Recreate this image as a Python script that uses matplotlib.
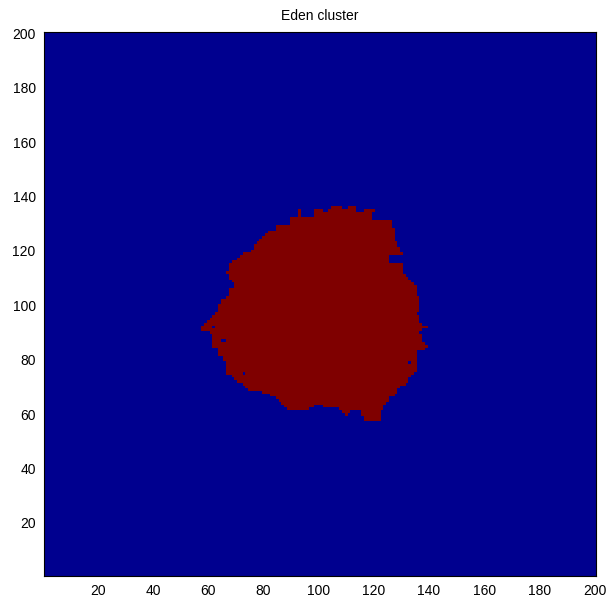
import numpy as np
import matplotlib
matplotlib.use("Agg")
import matplotlib.pyplot as plt
from matplotlib.path import Path
from matplotlib.colors import ListedColormap

n = 200  # lattice size

# outline of the Eden cluster (lattice units)
edge_x = [101.8, 98.8, 98.8, 96.4, 93.2, 93.2, 92.2, 92.2, 89.7, 89.1, 84.3, 84.3,
          81.3, 79.5, 78.5, 76.4, 75.8, 72.8, 69.8, 67.8, 66.8, 67.8, 69.8, 69.8,
          67.8, 66.8, 65.0, 63.8, 63.2, 61.9, 60.1, 58.3, 57.1, 57.1, 60.1, 60.1,
          61.9, 61.9, 63.2, 63.2, 65.6, 66.2, 66.8, 69.2, 71.6, 74.6, 77.6, 80.7,
          84.3, 86.1, 87.9, 89.7, 95.7, 96.4, 96.9, 98.8, 100.0, 103.0, 107.2, 109.1,
          110.3, 111.0, 115.7, 116.3, 119.3, 122.3, 122.3, 123.5, 125.4, 127.2, 129.0, 130.8,
          132.3, 133.8, 135.0, 135.0, 135.9, 139.8, 139.8, 136.2, 138.6, 137.4, 136.8, 139.3,
          138.6, 136.2, 136.8, 136.8, 135.0, 135.0, 133.2, 132.0, 130.2, 130.2, 126.6, 125.2,
          125.2, 130.2, 130.2, 129.0, 129.0, 127.8, 127.5, 126.6, 125.9, 119.3, 119.3, 120.5,
          119.9, 116.3, 115.7, 113.9, 113.3, 110.9, 110.9, 109.1, 107.9, 106.1, 104.2, 103.4,
          101.2]
edge_y = [135.2, 135.2, 132.7, 132.1, 132.1, 135.5, 135.5, 132.1, 132.1, 129.7, 129.7, 127.8,
          126.8, 125.6, 124.0, 121.9, 120.0, 119.0, 116.8, 114.9, 111.9, 109.5, 108.5, 107.0,
          106.0, 103.3, 102.1, 100.2, 97.8, 96.0, 94.7, 92.9, 91.1, 90.2, 90.2, 89.2,
          89.2, 84.3, 84.3, 81.9, 81.9, 78.2, 75.1, 73.3, 71.5, 69.0, 68.4, 67.8,
          65.9, 64.7, 62.3, 61.7, 62.0, 61.0, 62.3, 63.5, 63.5, 62.3, 62.3, 60.5,
          59.0, 61.0, 61.0, 58.0, 57.4, 57.4, 59.2, 63.2, 64.7, 66.5, 69.6, 70.6,
          72.0, 74.5, 75.1, 81.2, 83.1, 84.3, 85.0, 85.5, 86.1, 87.4, 90.4, 91.7,
          92.6, 94.1, 96.0, 103.3, 103.3, 107.0, 109.4, 110.1, 113.1, 115.0, 115.6, 116.2,
          118.7, 119.0, 119.8, 119.8, 121.7, 123.5, 127.8, 129.6, 131.7, 131.7, 133.3, 134.5,
          135.8, 135.8, 133.9, 134.5, 136.6, 136.6, 135.8, 135.8, 136.6, 136.6, 135.8, 134.5,
          134.9]

# empty sites left inside the cluster
hole_x = [73, 126, 130, 133, 136, 62, 65, 66]
hole_y = [75, 66, 70, 79, 97, 92, 87, 87]

cols, rows = np.meshgrid(np.arange(1, n + 1), np.arange(1, n + 1))
outline = Path(np.column_stack([edge_x, edge_y]))
inside = outline.contains_points(np.column_stack([cols.ravel(), rows.ravel()]))
grid = inside.reshape(n, n).astype(float)
for hx, hy in zip(hole_x, hole_y):
    grid[hy - 1, hx - 1] = 0

plt.rcParams['font.family'] = ['Liberation Sans', 'DejaVu Sans']
fig = plt.figure(figsize=(6.06, 6.01), dpi=100)
ax = fig.add_axes([44 / 606, 25 / 601, 552 / 606, 544 / 601])

cmap = ListedColormap([(0, 0, 0.5625), (0.5, 0, 0)])
ax.imshow(grid, cmap=cmap, origin='lower', extent=(0.5, n + 0.5, 0.5, n + 0.5),
          aspect='auto', interpolation='nearest', vmin=0, vmax=1)

ticks = np.arange(20, 201, 20)
ax.set_xticks(ticks)
ax.set_yticks(ticks)
# ticks sit under the image in the original, so only labels show
ax.tick_params(length=0, pad=6, labelsize=10)
for s in ax.spines.values():
    s.set_linewidth(0.8)
ax.set_title('Eden cluster', fontsize=10, pad=9)

fig.savefig('out.png', dpi=100)
